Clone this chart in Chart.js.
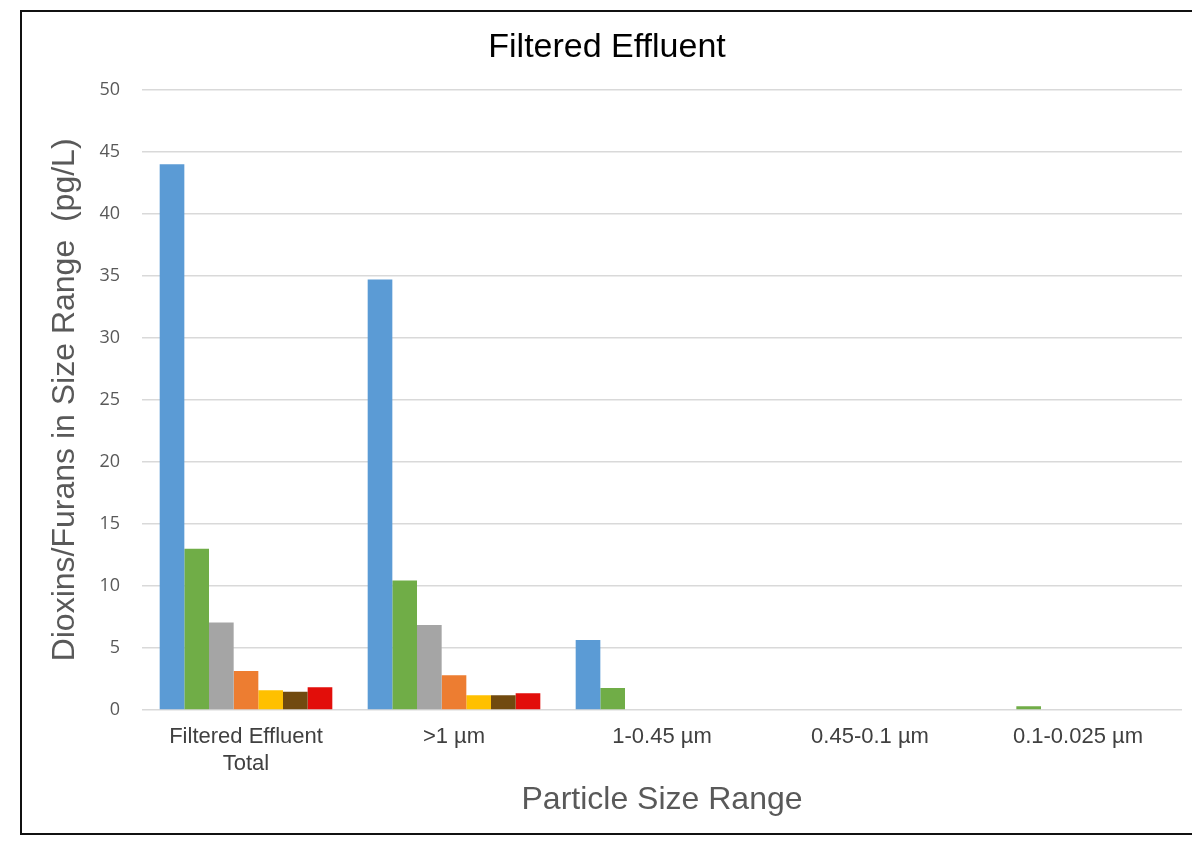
<!DOCTYPE html>
<html>
<head>
<meta charset="utf-8">
<script src="https://cdn.jsdelivr.net/npm/chart.js@4/dist/chart.umd.min.js"></script>
<style>
  html, body { margin: 0; padding: 0; background: #fff; overflow: hidden; }
  #wrap { position: relative; width: 1192px; height: 846px; }
</style>
</head>
<body>
<div id="wrap"><canvas id="c" width="1192" height="846"></canvas></div>
<script>
// Particle size fractions along the x axis
const categories = [
  ['Filtered Effluent', 'Total'],
  '>1 µm',
  '1-0.45 µm',
  '0.45-0.1 µm',
  '0.1-0.025 µm'
];

// Dioxin/furan concentrations (pg/L) per fraction, one array per series
const series1 = [44.0, 34.7, 5.65, 0, 0];
const series2 = [13.0, 10.45, 1.77, 0, 0.3];
const series3 = [7.05, 6.85, 0, 0, 0];
const series4 = [3.15, 2.8, 0, 0, 0];
const series5 = [1.6, 1.18, 0, 0, 0];
const series6 = [1.47, 1.18, 0, 0, 0];
const series7 = [1.83, 1.35, 0, 0, 0];

const seriesNames = ['Series 1', 'Series 2', 'Series 3', 'Series 4', 'Series 5', 'Series 6', 'Series 7'];
const seriesColors = ['#5B9BD5', '#70AD47', '#A5A5A5', '#ED7D31', '#FFC000', '#714A0F', '#E20E0A'];
const seriesValues = [series1, series2, series3, series4, series5, series6, series7];

// Y axis range
const yMin = 0, yMax = 50, yStep = 5;

// Frame drawn around the whole figure
const framePlugin = {
  id: 'frame',
  beforeDraw(chart) {
    const ctx = chart.ctx;
    ctx.save();
    ctx.fillStyle = '#ffffff';
    ctx.fillRect(0, 0, chart.width, chart.height);
    ctx.strokeStyle = '#111111';
    ctx.lineWidth = 2;
    ctx.beginPath();
    ctx.moveTo(1200, 11);
    ctx.lineTo(21, 11);
    ctx.lineTo(21, 834);
    ctx.lineTo(1200, 834);
    ctx.stroke();
    ctx.restore();
  }
};

new Chart(document.getElementById('c'), {
  type: 'bar',
  data: {
    labels: categories,
    datasets: seriesValues.map((vals, i) => ({
      label: seriesNames[i],
      data: vals,
      backgroundColor: seriesColors[i],
      borderWidth: 0,
      barPercentage: 1.0,
      categoryPercentage: 0.83
    }))
  },
  options: {
    responsive: false,
    animation: false,
    layout: { padding: { left: 32, right: 10, top: 0, bottom: 27 } },
    plugins: {
      legend: { display: false },
      tooltip: { enabled: false },
      title: {
        display: true,
        text: 'Filtered Effluent',
        color: '#000000',
        font: { family: 'Liberation Sans', size: 34, weight: 'normal' },
        padding: { top: 27, bottom: 22 }
      }
    },
    scales: {
      x: {
        grid: { display: false, drawTicks: false },
        border: { display: false },
        ticks: {
          color: '#404040',
          font: { family: 'Liberation Sans', size: 22 },
          padding: 14,
          maxRotation: 0,
          autoSkip: false
        },
        title: {
          display: true,
          text: 'Particle Size Range',
          color: '#595959',
          font: { family: 'Liberation Sans', size: 32 },
          padding: { top: 4, bottom: 0 }
        },
        afterFit(scale) { scale.height = 109; }
      },
      y: {
        min: yMin,
        max: yMax,
        grid: { color: '#d9d9d9', lineWidth: 1.5, drawTicks: false },
        border: { display: false },
        ticks: {
          stepSize: yStep,
          color: '#595959',
          font: { family: 'Open Sans', size: 18 },
          padding: 22
        },
        title: {
          display: true,
          text: 'Dioxins/Furans in Size Range  (pg/L)',
          color: '#595959',
          font: { family: 'Liberation Sans', size: 32 },
          padding: { top: 14, bottom: 4 }
        },
        afterFit(scale) { scale.width = 110; }
      }
    }
  },
  plugins: [framePlugin]
});
</script>
</body>
</html>
